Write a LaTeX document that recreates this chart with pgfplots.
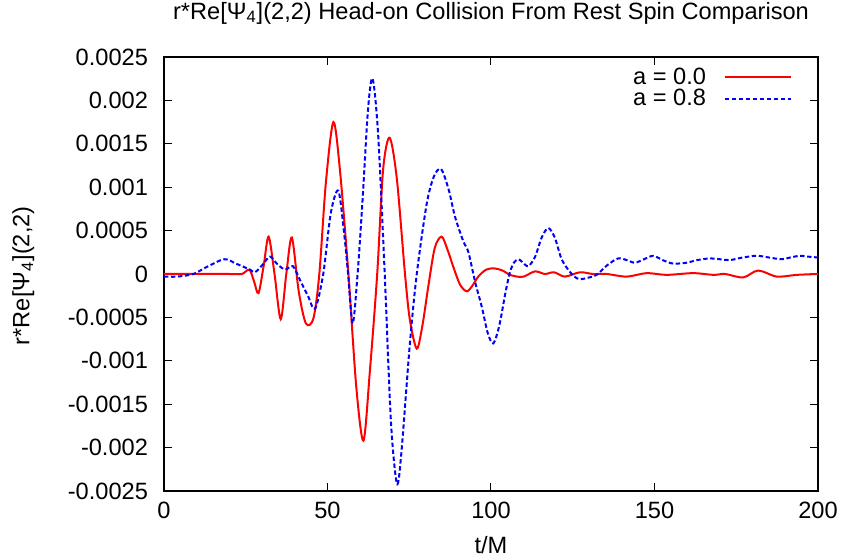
\documentclass[border=0pt]{standalone}
\usepackage{fontspec}
\setmainfont{Liberation Sans}
\usepackage{pgfplots}
\pgfplotsset{compat=1.18}
\begin{document}
\begin{tikzpicture}[font=\fontsize{11.8}{13.5}\selectfont]
\begin{axis}[
  scale only axis,
  width=327pt, height=217pt,
  xmin=0, xmax=200, ymin=-0.0025, ymax=0.0025,
  xtick={0,50,100,150,200},
  ytick={-0.0025,-0.002,-0.0015,-0.001,-0.0005,0,0.0005,0.001,0.0015,0.002,0.0025},
  yticklabels={-0.0025,-0.002,-0.0015,-0.001,-0.0005,0,0.0005,0.001,0.0015,0.002,0.0025},
  xticklabels={0,50,100,150,200},
  scaled y ticks=false,
  tick align=inside,
  major tick length=4pt,
  tick style={black, line width=0.5pt},
  axis line style={line width=0.6pt},
  xticklabel style={yshift=-2pt},
  yticklabel style={xshift=-4.5pt},
  title={r*Re[Ψ\textsubscript{4}](2,2) Head-on Collision From Rest Spin Comparison},
  title style={at={(axis description cs:0.5,1)}, anchor=base, yshift=13pt},
  xlabel={t/M},
  ylabel={r*Re[Ψ\textsubscript{4}](2,2)},
  every axis x label/.style={at={(axis description cs:0.5,-0.124)}, anchor=center},
  every axis y label/.style={at={(axis description cs:-0.215,0.496)}, rotate=90, anchor=center},
  legend plot pos=right,
  legend cell align=right,
  legend style={draw=none, fill=none, at={(axis description cs:0.970,0.995)}, anchor=north east, row sep=-3pt, column sep=7pt},
  legend image code/.code={\draw[#1] (0pt,0pt) -- (33pt,0pt);},
]
\addplot[red, line width=1pt, smooth] coordinates {
(0,0) (10,0) (20,0) (23.8,0) (26.1,0.00005) (27.5,-0.00008) (28.9,-0.00022) (30.5,0.0001) (32.0,0.00043) (33.8,0) (35.7,-0.00052) (37.4,0) (39.1,0.00042) (41.2,-0.0002) (43.4,-0.00057) (45.7,-0.00051) (47.5,0) (49.5,0.00105) (51.8,0.00175) (53.8,0.0012) (56.4,0) (58.8,-0.0013) (61.0,-0.00192) (63.0,-0.0011) (65.2,0) (67.0,0.0012) (69.0,0.00157) (71.2,0.0011) (73.7,0) (75.2,-0.00053) (77.3,-0.00086) (79.0,-0.0006) (80.8,-0.00015) (82.8,0.0003) (84.9,0.00043) (86.7,0.00028) (88.5,0.00008) (90.5,-0.00012) (92.6,-0.0002) (94.4,-0.00013) (96.1,-0.00003) (98.5,0.00005) (101.0,0.000065) (103.5,0.00004) (105.8,-0.00001) (108,-0.00003) (110,-0.00003) (113.5,0.00003) (116.5,0.0) (119.3,0.00002) (122.6,-0.00003) (127.2,0.00002) (131.2,0) (135.4,0) (141.5,-0.00003) (147.6,0.00001) (153.7,-0.00001) (161.8,0.00001) (168,-0.00001) (171.6,0) (177.1,-0.00004) (181.7,0.00004) (187.4,-0.00003) (193.5,-0.00001) (200,0)
};
\addlegendentry{a = 0.0}
\addplot[blue, line width=1pt, dash pattern=on 2.2pt off 1.3pt, smooth] coordinates {
(0,-0.00003) (4,-0.00003) (9,0) (13,0.00008) (18.4,0.00017) (22,0.00012) (26.3,0.00005) (27.8,0.00002) (30,0.0001) (32.4,0.0002) (34.5,0.00012) (37,0.00005) (39.4,0.00009) (41.6,-0.00007) (44,-0.00025) (46.2,-0.0004) (48.7,0) (51,0.0007) (53.3,0.00096) (55,0.0005) (56.3,0) (57.7,-0.00057) (59.2,0) (60.8,0.0009) (62.4,0.0019) (63.8,0.00225) (65.5,0.0016) (67.5,0) (69.4,-0.0017) (71.2,-0.00241) (72.5,-0.0021) (75.2,-0.0008) (77.3,0) (80.3,0.0008) (82.5,0.00112) (84.7,0.00121) (87,0.00098) (89,0.00066) (91.5,0.00038) (93.1,0.00025) (95.2,-0.0001) (97.2,-0.00038) (99,-0.00068) (100.7,-0.0008) (102.5,-0.0006) (104.5,-0.0002) (105.8,0.00002) (107,0.00013) (108.4,0.00017) (109.5,0.00014) (111.4,0.00009) (113.5,0.0002) (115.5,0.00042) (117.5,0.00053) (119.5,0.00042) (121.5,0.00018) (123.6,0.00005) (125.5,-0.00003) (127.2,-0.00006) (130,-0.00004) (132.3,-0.00001) (135.5,0.0001) (138.9,0.00018) (141.5,0.00016) (144,0.00013) (146.8,0.00017) (149.6,0.00021) (152.5,0.00016) (155.7,0.00012) (159.8,0.00013) (163,0.00016) (167,0.00018) (170,0.00017) (173,0.00016) (177,0.00019) (181.3,0.00021) (185,0.00019) (188.9,0.00017) (191.5,0.00019) (194.5,0.00021) (197,0.0002) (200,0.00019)
};
\addlegendentry{a = 0.8}
\end{axis}
\pgfresetboundingbox
\useasboundingbox (-82pt,-33pt) rectangle (339.5pt,245.5pt);
\end{tikzpicture}
\end{document}
